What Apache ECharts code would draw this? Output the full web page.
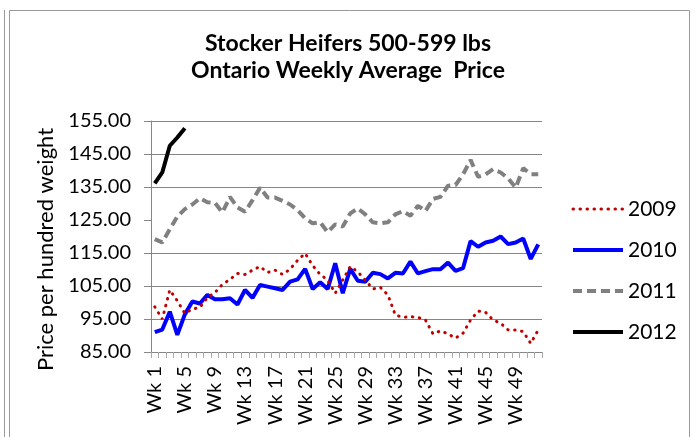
<!DOCTYPE html>
<html>
<head>
<meta charset="utf-8">
<script src="https://cdn.jsdelivr.net/npm/echarts@6/dist/echarts.min.js"></script>
<style>
html,body{margin:0;padding:0;background:#fff;}
#chart{width:696px;height:437px;}
</style>
</head>
<body>
<div id="chart"></div>
<script>
const weeks = Array.from({length: 52}, (_, i) => 'Wk ' + (i + 1));
const seriesNames = ['2009', '2010', '2011', '2012'];
const y2009 = [98.7, 95, 103.8, 100.5, 96.7, 98, 98.5, 101.5, 103, 105.5,
  107, 108.8, 108.5, 109.8, 110.9, 109.1, 109.8, 108.5, 110.1, 112.8,
  114.9, 111.2, 108.5, 106.8, 102.8, 106.8, 110.9, 109.3, 106.8, 104.1,
  104.6, 102.3, 96.2, 95.5, 95.7, 95.5, 94.7, 90.5, 91.4, 90.5,
  89.2, 90.7, 94.7, 97.4, 97, 94.7, 93.7, 91.7, 91.7, 91.2, 87.6, 91.7];
const y2010 = [91, 91.8, 97.2, 90.2, 96.4, 100.3, 99.7, 102.3, 101, 101,
  101.3, 99.4, 103.8, 101.4, 105.3, 104.8, 104.3, 103.8, 106.3, 107,
  110.2, 104.1, 106.1, 104.1, 111.9, 102.8, 110.2, 106.6, 106.3, 109,
  108.6, 107.3, 109, 108.8, 112.4, 108.8, 109.5, 110.1, 110.1, 112.1,
  109.6, 110.4, 118.6, 116.9, 118.2, 118.7, 120, 117.7, 118.2, 119.4, 113.2, 117.6];
const y2011 = [119.2, 118.2, 122.2, 126, 128.3, 129.7, 131.6, 130.4, 130.2, 127.3,
  132, 128.8, 127.5, 131, 134.8, 131.8, 131.8, 130.8, 129.7, 128,
  125.5, 124, 124.3, 121.3, 123.7, 123, 127, 128.5, 126.7, 124.3,
  124, 124.3, 126.7, 127.7, 126.3, 129.3, 127.7, 131.4, 132, 135.4,
  135.6, 138.8, 143.2, 138.1, 138.8, 140.4, 139.4, 137.6, 134.8, 140.7, 138.9, 138.9];
const y2012 = [136.1, 139.4, 147.5, 150, 152.8];
const yMin = 85, yMax = 155, yStep = 10;

const gridColor = '#868686';
const styles = {
  '2009': {color: '#C00000', width: 3, type: [0.5, 6.5], cap: 'round'},
  '2010': {color: '#0000FF', width: 4, type: 'solid'},
  '2011': {color: '#808080', width: 4, type: [9, 5]},
  '2012': {color: '#000000', width: 4, type: 'solid'}
};
const chart = echarts.init(document.getElementById('chart'));
chart.setOption({
  backgroundColor: '#fff',
  animation: false,
  title: {
    text: 'Stocker Heifers 500-599 lbs\nOntario Weekly Average  Price',
    left: 'center',
    top: 25,
    textStyle: {fontFamily: 'Lato', fontSize: 23, fontWeight: 'bold', color: '#000', lineHeight: 27}
  },
  legend: {
    data: seriesNames.map(n => ({name: n, lineStyle: styles[n], itemStyle: {opacity: 0}})),
    orient: 'vertical',
    left: 566,
    top: 193,
    itemWidth: 50,
    itemHeight: 14,
    itemGap: 19,
    itemStyle: {opacity: 0},
    textStyle: {fontFamily: 'Lato', fontSize: 21, color: '#000', lineHeight: 22}
  },
  graphic: [
    {type: 'line', shape: {x1: 4.5, y1: 10, x2: 4.5, y2: 437}, style: {stroke: '#999', lineWidth: 1}},
    {type: 'line', shape: {x1: 9.5, y1: 10.5, x2: 689.5, y2: 10.5}, style: {stroke: '#999', lineWidth: 1}},
    {type: 'line', shape: {x1: 9.5, y1: 10.5, x2: 9.5, y2: 437}, style: {stroke: '#999', lineWidth: 1}},
    {type: 'line', shape: {x1: 689.5, y1: 10.5, x2: 689.5, y2: 437}, style: {stroke: '#999', lineWidth: 1}}
  ],
  grid: {left: 151, right: 154, top: 121, bottom: 85, containLabel: false},
  xAxis: {
    type: 'category',
    data: weeks,
    boundaryGap: true,
    axisLine: {lineStyle: {color: gridColor, width: 1}},
    axisTick: {show: true, interval: 0, length: 6, lineStyle: {color: '#aaa'}},
    axisLabel: {interval: 3, rotate: 90, margin: 14, fontFamily: 'Lato', fontSize: 20, color: '#000'},
    splitLine: {show: false}
  },
  yAxis: {
    type: 'value',
    min: yMin, max: yMax, interval: yStep,
    name: 'Price per hundred weight',
    nameLocation: 'middle',
    nameGap: 90,
    nameTextStyle: {fontFamily: 'Lato', fontSize: 22, color: '#000', padding: [0, 26, 0, 0]},
    axisLine: {show: true, lineStyle: {color: gridColor, width: 1}},
    axisTick: {show: true, length: 7, lineStyle: {color: gridColor}},
    axisLabel: {margin: 20, fontFamily: 'Lato', fontSize: 20, color: '#000', formatter: v => v.toFixed(2)},
    splitLine: {show: true, lineStyle: {color: [gridColor, gridColor, gridColor, gridColor, 'rgba(0,0,0,0)', gridColor, gridColor, gridColor], width: 1}}
  },
  series: [
    {name: '2009', type: 'line', data: y2009, symbol: 'none', z: 4,
     lineStyle: styles['2009'], itemStyle: {color: '#C00000'}},
    {name: '2010', type: 'line', data: y2010, symbol: 'none', z: 3,
     lineStyle: styles['2010'], itemStyle: {color: '#0000FF'}},
    {name: '2011', type: 'line', data: y2011, symbol: 'none', z: 2,
     lineStyle: styles['2011'], itemStyle: {color: '#808080'}},
    {name: '2012', type: 'line', data: y2012, symbol: 'none', z: 5,
     lineStyle: styles['2012'], itemStyle: {color: '#000000'}}
  ]
});
</script>
</body>
</html>
